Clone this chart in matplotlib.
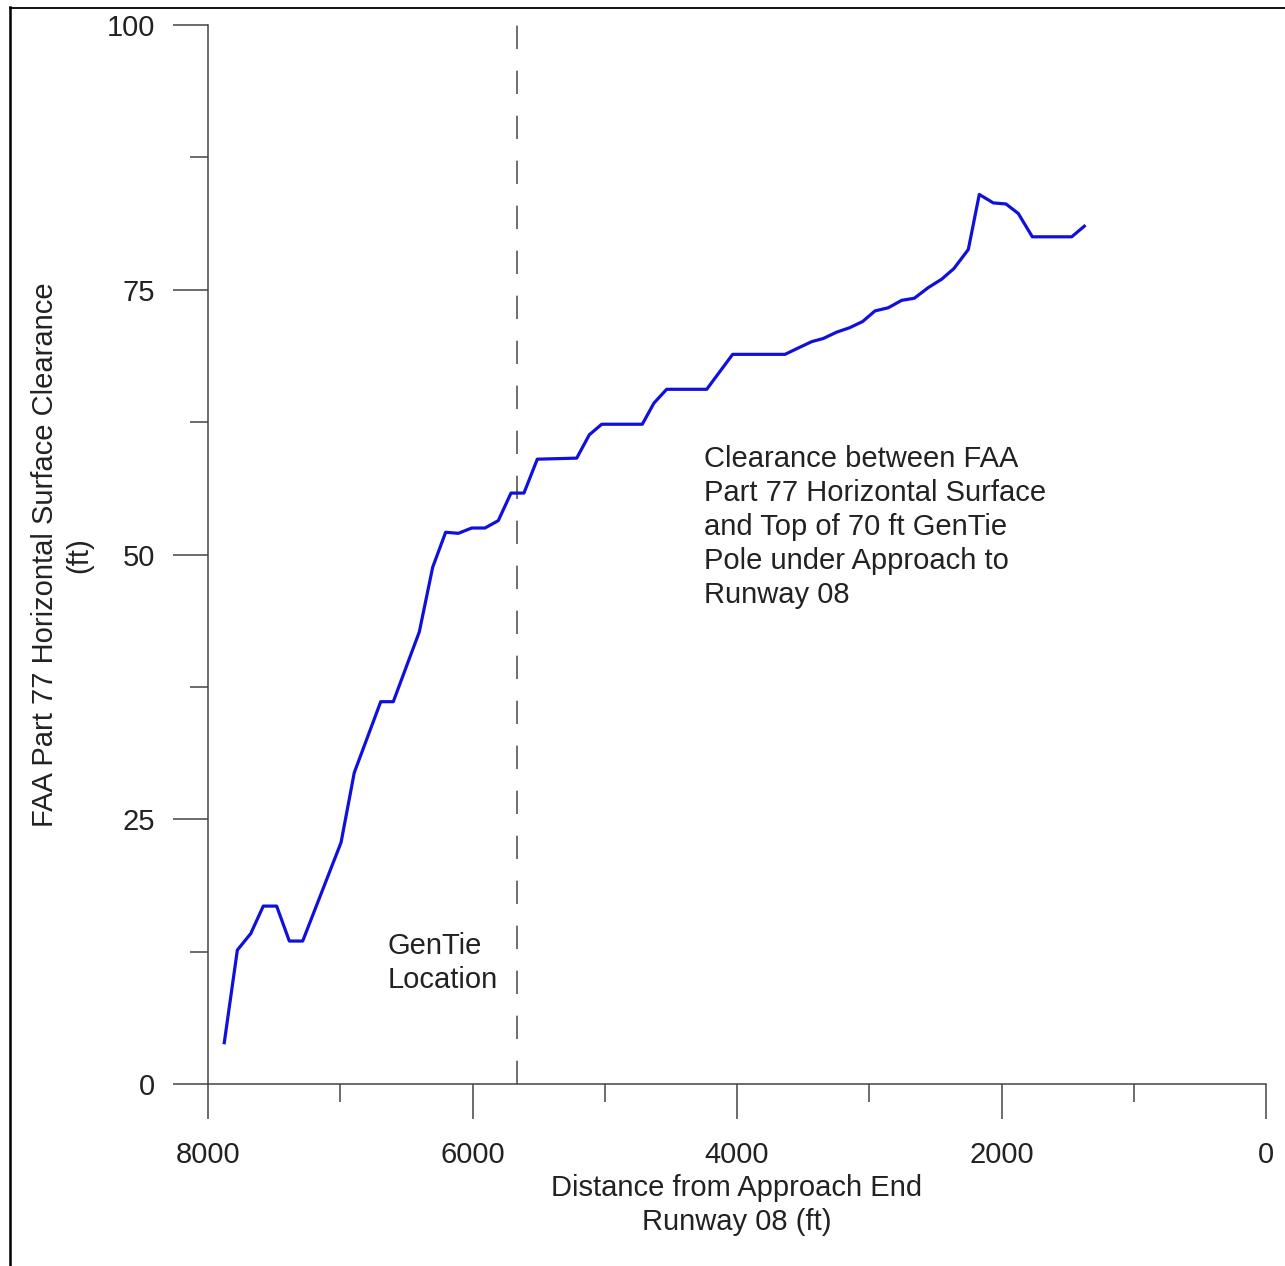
import matplotlib
matplotlib.use("Agg")
import matplotlib.pyplot as plt
from matplotlib.lines import Line2D
from matplotlib.ticker import MultipleLocator

plt.rcParams['font.family'] = ['Liberation Sans', 'DejaVu Sans']

# distance from approach end (ft) and clearance (ft)
dist = [7877, 7778, 7677, 7582, 7481, 7385, 7284, 6994, 6894, 6694,
        6599, 6402, 6301, 6203, 6107, 6006, 5906, 5805, 5709, 5611,
        5510, 5212, 5117, 5023, 4716, 4628, 4532, 4229, 4033, 3637,
        3537, 3435, 3347, 3246, 3151, 3050, 2957, 2856, 2755, 2659,
        2554, 2452, 2360, 2251, 2168, 2062, 1966, 1873, 1767, 1469,
        1374]
clear = [3.9, 12.65, 14.2, 16.8, 16.8, 13.5, 13.5, 22.8, 29.4, 36.1,
         36.1, 42.7, 48.8, 52.1, 52.0, 52.5, 52.5, 53.2, 55.8, 55.8,
         59.0, 59.1, 61.3, 62.3, 62.3, 64.3, 65.6, 65.6, 68.9, 68.9,
         69.5, 70.1, 70.4, 71.0, 71.4, 72.0, 73.0, 73.3, 74.0, 74.2,
         75.2, 76.0, 77.0, 78.8, 84.0, 83.2, 83.1, 82.2, 80.0, 80.0,
         81.0]
gentie_x = 5660

W, H = 1285, 1266
fig = plt.figure(figsize=(W / 100, H / 100), dpi=100)
ax = fig.add_axes([208 / W, 1 - 1084 / H, (1266 - 208) / W, (1084 - 25) / H])

axc = '#444444'
txt = '#222222'
fs = 21
ls = 1.27

ax.plot(dist, clear, color='#1010dd', lw=2.3, solid_joinstyle='round', zorder=3)
ax.plot([gentie_x, gentie_x], [0, 100], color='#555555', lw=1.2,
        dashes=(14, 13), zorder=2)

ax.set_xlim(8000, 0)
ax.set_ylim(0, 100)
ax.xaxis.set_major_locator(MultipleLocator(2000))
ax.xaxis.set_minor_locator(MultipleLocator(1000))
ax.yaxis.set_major_locator(MultipleLocator(25))
ax.yaxis.set_minor_locator(MultipleLocator(12.5))

for s in ['top', 'right']:
    ax.spines[s].set_visible(False)
for s in ['left', 'bottom']:
    ax.spines[s].set_color(axc)
    ax.spines[s].set_linewidth(1.1)

ax.tick_params(which='major', length=25, width=1.1, color=axc,
               labelsize=fs, labelcolor=txt)
ax.tick_params(which='minor', length=13, width=1.1, color=axc)
ax.tick_params(axis='y', which='major', pad=13)
ax.tick_params(axis='x', which='major', pad=16)

ax.text(6639, 11.4, 'GenTie\nLocation', fontsize=fs, color=txt,
        ha='left', va='center', linespacing=ls)
ax.text(4250, 52.6, 'Clearance between FAA\nPart 77 Horizontal Surface\n'
        'and Top of 70 ft GenTie\nPole under Approach to\nRunway 08',
        fontsize=fs, color=txt, ha='left', va='center', linespacing=ls)

fig.text(62 / W, 1 - 555 / H, 'FAA Part 77 Horizontal Surface Clearance\n(ft)',
         rotation=90, ha='center', va='center', multialignment='center',
         fontsize=fs, color=txt, linespacing=ls)
fig.text(737 / W, 1 - 1205 / H, 'Distance from Approach End\nRunway 08 (ft)',
         ha='center', va='center', multialignment='center',
         fontsize=fs, color=txt, linespacing=ls)

# frame lines at top and left of the page
fig.add_artist(Line2D([10 / W, 1], [1 - 7.5 / H, 1 - 7.5 / H],
                      transform=fig.transFigure, color='black', lw=1.3))
fig.add_artist(Line2D([10 / W, 10 / W], [0, 1 - 7 / H],
                      transform=fig.transFigure, color='black', lw=1.8))

fig.savefig('out.png', dpi=100)
